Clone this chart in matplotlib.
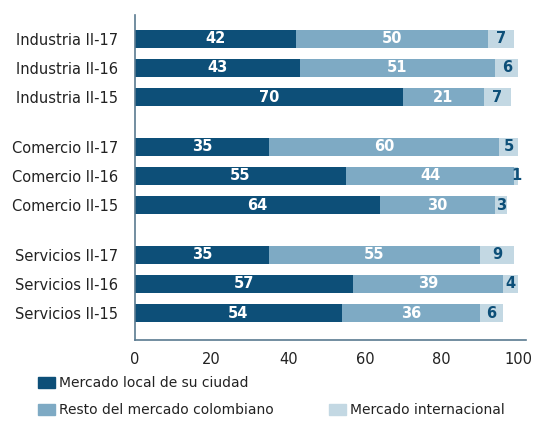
import matplotlib
matplotlib.use("Agg")
import matplotlib.pyplot as plt
from matplotlib.patches import Patch

categories = ["Industria II-17", "Industria II-16", "Industria II-15",
              "Comercio II-17", "Comercio II-16", "Comercio II-15",
              "Servicios II-17", "Servicios II-16", "Servicios II-15"]
local = [42, 43, 70, 35, 55, 64, 35, 57, 54]
resto = [50, 51, 21, 60, 44, 30, 55, 39, 36]
internacional = [7, 6, 7, 5, 1, 3, 9, 4, 6]
series_names = ["Mercado local de su ciudad", "Resto del mercado colombiano",
                "Mercado internacional"]
x_ticks = [0, 20, 40, 60, 80, 100]

c_dark = "#0d4f78"
c_mid = "#7eaac4"
c_light = "#c3d8e3"
c_text = "#222222"

# vertical positions: three groups of three bars with a gap between groups
gap = 1.72
ypos = []
for g in range(3):
    for i in range(3):
        ypos.append(g * (2 + gap) + i)

fig = plt.figure(figsize=(5.35, 4.25), dpi=100)
ax = fig.add_axes([0.252, 0.2, 0.731, 0.765])

h = 0.62
left3 = [a + b for a, b in zip(local, resto)]
ax.barh(ypos, local, height=h, color=c_dark)
ax.barh(ypos, resto, left=local, height=h, color=c_mid)
ax.barh(ypos, internacional, left=left3, height=h, color=c_light)

for y, a, b, c in zip(ypos, local, resto, internacional):
    ax.text(a / 2, y, str(a), ha="center", va="center", color="white",
            fontsize=10.5, fontweight="bold")
    ax.text(a + b / 2, y, str(b), ha="center", va="center", color="white",
            fontsize=10.5, fontweight="bold")
    ax.text(a + b + c / 2, y, str(c), ha="center", va="center", color=c_dark,
            fontsize=10.5, fontweight="bold")

ax.set_xlim(0, 102)
ax.set_ylim(ypos[-1] + 0.93, -0.83)
ax.set_yticks(ypos)
ax.set_yticklabels(categories, fontsize=10.5, color=c_text)
ax.set_xticks(x_ticks)
ax.set_xticklabels([str(t) for t in x_ticks], fontsize=10.5, color=c_text)
ax.tick_params(axis="y", length=0, pad=12)
ax.tick_params(axis="x", length=0, pad=9)
for s in ["top", "right"]:
    ax.spines[s].set_visible(False)
for s in ["left", "bottom"]:
    ax.spines[s].set_color("#5a7a90")
    ax.spines[s].set_linewidth(1.2)

handles = [Patch(color=c_dark), Patch(color=c_mid),
           Patch(color="none"), Patch(color=c_light)]
labels = [series_names[0], series_names[1], "", series_names[2]]
fig.legend(handles, labels, ncol=2, loc="upper left",
           bbox_to_anchor=(0.071, 0.115), frameon=False, fontsize=10,
           handlelength=1.2, handleheight=0.9, handletextpad=0.3,
           columnspacing=4.0, labelspacing=0.95, borderaxespad=0,
           borderpad=0, labelcolor=c_text)

fig.savefig("out.png", dpi=100, facecolor="white")
